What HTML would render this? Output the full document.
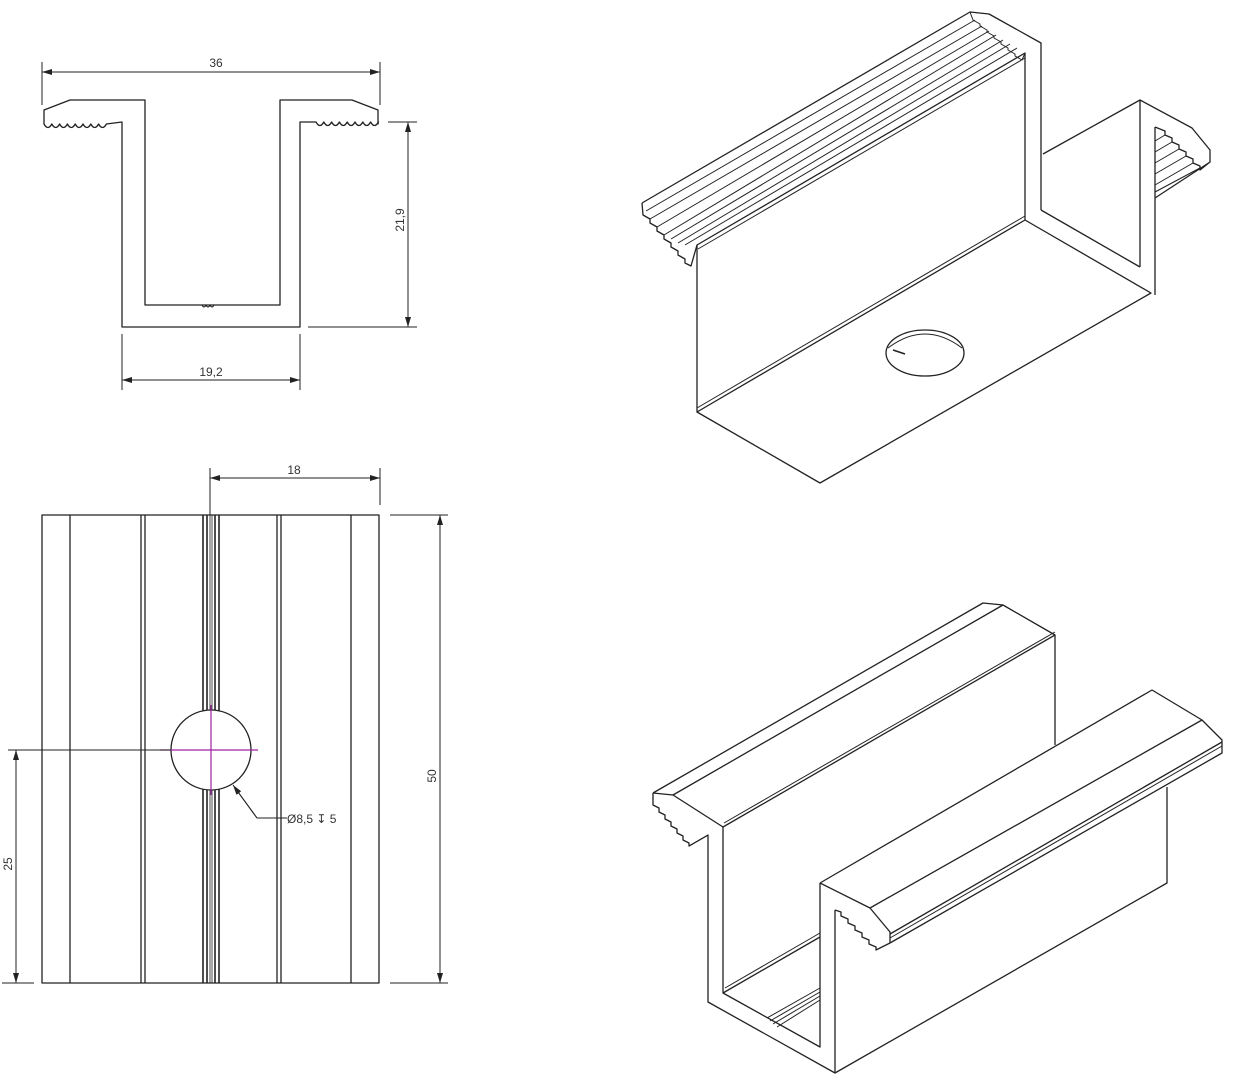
<!DOCTYPE html>
<html><head><meta charset="utf-8"><style>
html,body{margin:0;padding:0;background:#fff}
svg{display:block}
text{font-family:"Liberation Sans",sans-serif;font-size:12px;fill:#333}
</style></head><body>
<svg width="1252" height="1080" viewBox="0 0 1252 1080" xmlns="http://www.w3.org/2000/svg">
<defs>
<marker id="ar" viewBox="0 0 10 6" refX="10" refY="3" markerWidth="10" markerHeight="6" orient="auto-start-reverse" markerUnits="userSpaceOnUse"><path d="M0,0 L10,3 L0,6 z" fill="#222"/></marker>
</defs>
<g fill="none" stroke="#222" stroke-width="1.3" stroke-linejoin="round">
<!-- TOP-LEFT PROFILE -->
<path d="M145,100 L70,100 L44,110 L44,124 q3.9,7 7.8,0 q3.9,7 7.8,0 q3.9,7 7.8,0 q3.9,7 7.8,0 q3.9,7 7.8,0 q3.9,7 7.8,0 q3.9,7 7.8,0 q3.9,7 7.8,0 L122,122 L122,327 L300,327 L300,122 L316,122 q3.9,7 7.8,0 q3.9,7 7.8,0 q3.9,7 7.8,0 q3.9,7 7.8,0 q3.9,7 7.8,0 q3.9,7 7.8,0 q3.9,7 7.8,0 q3.9,7 7.8,0 L378,124 L378,110 L352,100 L280,100 L280,305 L145,305 Z"/>
<path d="M202,305 q2,4 4,0 q2,4 4,0 q2,4 4,0" stroke-width="1"/>
<!-- dims -->
<g stroke-width="1">
<line x1="42" y1="62" x2="42" y2="105"/><line x1="380" y1="62" x2="380" y2="105"/>
<line x1="42" y1="72" x2="380" y2="72" marker-start="url(#ar)" marker-end="url(#ar)"/>
<line x1="388" y1="122" x2="417" y2="122"/><line x1="308" y1="327" x2="417" y2="327"/>
<line x1="408" y1="122" x2="408" y2="327" marker-start="url(#ar)" marker-end="url(#ar)"/>
<line x1="122" y1="334" x2="122" y2="390"/><line x1="300" y1="334" x2="300" y2="390"/>
<line x1="122" y1="380" x2="300" y2="380" marker-start="url(#ar)" marker-end="url(#ar)"/>
</g>

<!-- BOTTOM-LEFT TOP VIEW -->
<rect x="42" y="515" width="337" height="468"/>
<g>
<line x1="70" y1="515" x2="70" y2="983"/>
<line x1="141" y1="515" x2="141" y2="983"/><line x1="145" y1="515" x2="145" y2="983"/>
<line x1="351" y1="515" x2="351" y2="983"/>
<line x1="277" y1="515" x2="277" y2="983"/><line x1="281" y1="515" x2="281" y2="983"/>
<path d="M203,515V712 M207,515V712 M215,515V712 M219,515V712 M203,788V983 M207,788V983 M215,788V983 M219,788V983" stroke-width="1.6"/>
<path d="M210,515V712 M212,515V712 M210,788V983 M212,788V983" stroke-width="0.8"/>
</g>
<circle cx="211" cy="750" r="40" fill="#fff"/>
<g stroke="#a020a0" stroke-width="1.2">
<line x1="160" y1="750" x2="258" y2="750"/><line x1="211" y1="705" x2="211" y2="795"/>
</g>
<g stroke-width="1">
<line x1="8" y1="750" x2="171" y2="750"/>
<line x1="2" y1="983" x2="34" y2="983"/>
<line x1="16" y1="750" x2="16" y2="983" marker-start="url(#ar)" marker-end="url(#ar)"/>
<line x1="210" y1="468" x2="210" y2="515"/><line x1="380" y1="468" x2="380" y2="505"/>
<line x1="210" y1="478" x2="380" y2="478" marker-start="url(#ar)" marker-end="url(#ar)"/>
<line x1="390" y1="515" x2="448" y2="515"/><line x1="390" y1="983" x2="448" y2="983"/>
<line x1="440" y1="515" x2="440" y2="983" marker-start="url(#ar)" marker-end="url(#ar)"/>
<polyline points="287,818 257,818 235,788" />
<line x1="257" y1="818" x2="233" y2="785" marker-end="url(#ar)"/>
</g>

<!-- TOP-RIGHT ISO -->
<path d="M642,203 L970,12 L989,14 L1041,43 L1041,210"/>
<path d="M642,203 L643,215 l7,4 l0,4 l7,4 l0,4 l7,4 l0,4 l7,4 l0,4 l7,4 l0,4 l7,4 l0,4 l6,3 L697,245"/>
<g stroke-width="1">
<line x1="650" y1="219" x2="982" y2="26"/><line x1="657" y1="227" x2="989" y2="31"/>
<line x1="664" y1="235" x2="996" y2="35"/><line x1="671" y1="239" x2="1003" y2="40"/>
<line x1="678" y1="243" x2="1010" y2="44"/><line x1="685" y1="245" x2="1017" y2="48"/>
<line x1="646" y1="211" x2="975" y2="20"/>
<line x1="698" y1="249" x2="1025" y2="58"/>
</g>
<path d="M970,12 l3,8 l7,4 l0,2 l7,4 l0,2 l7,4 l0,2 l7,4 l0,2 l7,4 l0,2 l7,4 l0,2 l7,4 L1025,53" stroke-width="1"/>
<path d="M697,245 L1025,53 L1025,220 L697,412 Z"/>
<line x1="697" y1="408" x2="1025" y2="216" stroke-width="1"/>
<path d="M697,412 L820,483 L1151,293 L1025,220"/>
<path d="M1043,154 L1140,100 L1192,128 L1210,150 L1210,162"/>
<line x1="1140" y1="100" x2="1140" y2="267"/>
<path d="M1041,210 L1140,267"/>
<path d="M1155,127 L1155,295"/>
<path d="M1155,127 L1165,131 l0,4 l7,3 l0,4 l7,3 l0,4 l7,3 l0,4 l7,3 l0,4 l7,3 l0,4 L1210,162 L1155,198"/>
<g stroke-width="1">
<line x1="1165" y1="135" x2="1155" y2="141"/><line x1="1172" y1="142" x2="1155" y2="152"/>
<line x1="1179" y1="149" x2="1155" y2="163"/><line x1="1186" y1="156" x2="1155" y2="174"/>
<line x1="1193" y1="163" x2="1155" y2="185"/><line x1="1200" y1="168" x2="1155" y2="192"/>
</g>
<ellipse cx="925" cy="353" rx="39" ry="23"/>
<path d="M888,348 Q925,320 962,348" stroke-width="1"/>
<path d="M893,350 l12,4" stroke-width="1.6"/>

<!-- BOTTOM-RIGHT ISO -->
<path d="M653,793 L983,603 L1003,605 L1055,635 L1055,745"/>
<path d="M673,795 L1003,605"/>
<path d="M653,793 L673,795 L723,827"/>
<path d="M653,793 L653,805 l6,3 l0,4 l6,3 l0,4 l6,3 l0,4 l6,3 l0,4 l6,3 l0,4 l6,3 l0,3 L708,835 L708,1002 L835,1073"/>
<path d="M723,827 L1055,635"/>
<line x1="724" y1="823" x2="1055" y2="632" stroke-width="1"/>
<path d="M723,827 L723,993 L820,1047 L820,883"/>
<line x1="723" y1="993" x2="820" y2="937"/>
<line x1="725" y1="988" x2="820" y2="933" stroke-width="1"/>
<g stroke-width="1">
<line x1="767" y1="1018" x2="820" y2="988"/><line x1="770" y1="1021" x2="820" y2="992"/>
<line x1="773" y1="1024" x2="820" y2="996"/><line x1="777" y1="1027" x2="820" y2="1000"/>
</g>
<path d="M820,883 L1152,690 L1202,720 L1222,740 L1222,753 L890,943"/>
<path d="M870,908 L1202,720"/>
<line x1="890" y1="934" x2="1222" y2="742"/>
<line x1="890" y1="938" x2="1222" y2="746" stroke-width="1"/>
<path d="M820,883 L870,908 L890,932 L890,943"/>
<path d="M835,910 L835,1073 L1167,883 L1167,787"/>
<path d="M835,910 l6,2 l0,4 l7,3 l0,4 l7,3 l0,4 l7,3 l0,4 l7,3 l0,4 l7,3 l0,3 L890,943"/>
</g>
<!-- labels -->
<text x="216" y="67" text-anchor="middle">36</text>
<text x="211" y="376" text-anchor="middle">19,2</text>
<text transform="translate(404,220) rotate(-90)" text-anchor="middle">21,9</text>
<text x="294" y="474" text-anchor="middle">18</text>
<text transform="translate(436,776) rotate(-90)" text-anchor="middle">50</text>
<text transform="translate(12,864) rotate(-90)" text-anchor="middle">25</text>
<text x="287" y="823">Ø8,5 ↧ 5</text>
</svg>
</body></html>
